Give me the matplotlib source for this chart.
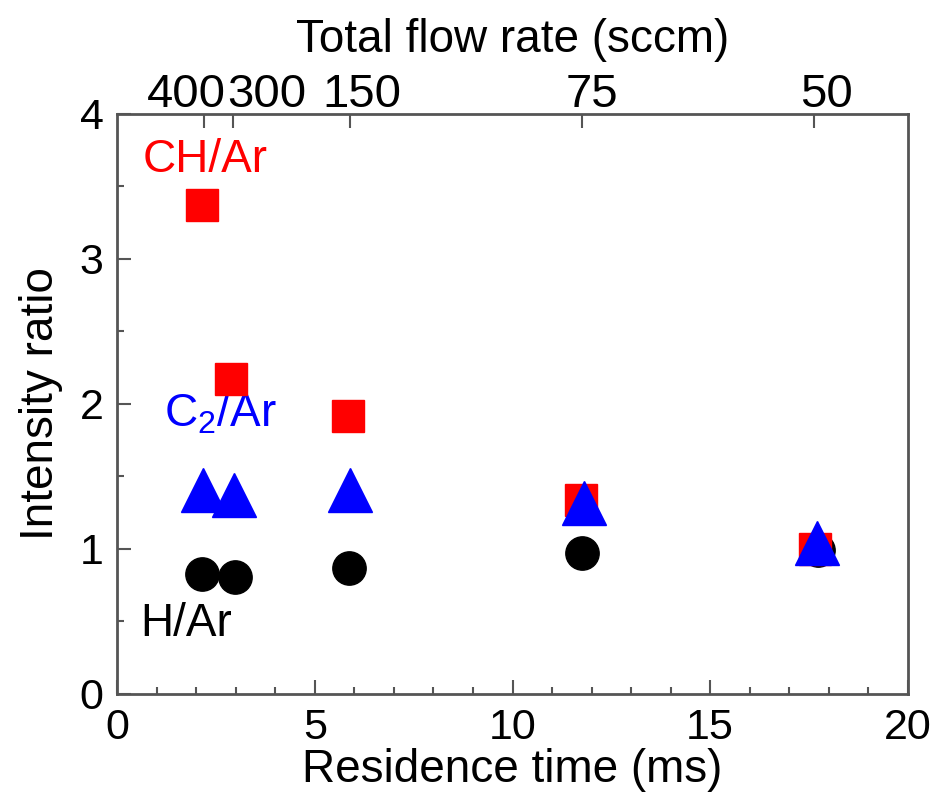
import matplotlib
matplotlib.use("Agg")
import matplotlib.pyplot as plt
from matplotlib.ticker import MultipleLocator
from matplotlib.transforms import ScaledTranslation

plt.rcParams['font.family'] = ['Liberation Sans', 'DejaVu Sans']
plt.rcParams['mathtext.fontset'] = 'custom'
plt.rcParams['mathtext.rm'] = 'Liberation Sans'
plt.rcParams['mathtext.it'] = 'Liberation Sans'

# residence time (ms) and intensity ratios
ch_time = [2.15, 2.88, 5.83, 11.73, 17.65]
ch_ratio = [3.37, 2.17, 1.92, 1.34, 1.00]

c2_time = [2.18, 2.95, 5.90, 11.80, 17.70]
c2_ratio = [1.41, 1.37, 1.41, 1.32, 1.04]

h_time = [2.14, 2.98, 5.86, 11.75, 17.72]
h_ratio = [0.83, 0.81, 0.87, 0.97, 0.99]

# top axis: total flow rate -> residence time
flow_rates = [400, 300, 150, 75, 50]
flow_labels = ['400', '300', '150', '75', '50']
flow_time = [882.0 / f for f in flow_rates]
flow_label_shift = [-13, 24, 9, 7, 9]   # points, keeps crowded labels apart

fs = 33        # axis titles and series names
fs_tick = 31   # bottom / left tick labels
fs_top = 34    # flow-rate tick labels
spine_col = '#555555'

fig = plt.figure(figsize=(9.36, 8.05), dpi=100)
ax = fig.add_axes([0.1253, 0.1379, 0.8445, 0.7205])

ax.plot(h_time, h_ratio, 'o', color='black', markersize=24, zorder=3)
ax.plot(ch_time, ch_ratio, 's', color='#ff0000', markersize=23.5, zorder=4)
ax.plot(c2_time, c2_ratio, '^', color='#0000ff', markersize=31, zorder=5)

ax.text(2.22, 3.68, 'CH/Ar', color='#ff0000', fontsize=fs, ha='center', va='center')
ax.text(2.6, 1.93, r'C$_2$/Ar', color='#0000ff', fontsize=fs, ha='center', va='center')
ax.text(1.74, 0.48, 'H/Ar', color='black', fontsize=fs, ha='center', va='center')

ax.set_xlim(0, 20)
ax.set_ylim(0, 4)
ax.xaxis.set_major_locator(MultipleLocator(5))
ax.xaxis.set_minor_locator(MultipleLocator(1))
ax.yaxis.set_major_locator(MultipleLocator(1))
ax.yaxis.set_minor_locator(MultipleLocator(0.5))
ax.tick_params(which='major', direction='in', length=10, width=1.5, color=spine_col,
               labelsize=fs_tick, top=False, right=False, pad=10)
ax.tick_params(which='minor', direction='in', length=5, width=1.5, color=spine_col,
               top=False, right=False)
for sp in ax.spines.values():
    sp.set_color(spine_col)
    sp.set_linewidth(2)

ax.set_xlabel('Residence time (ms)', fontsize=fs, labelpad=0)
ax.set_ylabel('Intensity ratio', fontsize=fs, labelpad=12)

# flow rate axis on top
top = ax.twiny()
top.set_xlim(ax.get_xlim())
top.set_xticks(flow_time)
top.set_xticklabels(flow_labels)
top.tick_params(direction='in', length=10, width=1.5, color=spine_col, labelsize=fs_top, pad=-2)
top.xaxis.set_minor_locator(plt.NullLocator())
for lab, dx in zip(top.get_xticklabels(), flow_label_shift):
    lab.set_transform(lab.get_transform() + ScaledTranslation(dx / 72, 0, fig.dpi_scale_trans))
top.set_xlabel('Total flow rate (sccm)', fontsize=fs, labelpad=15)
for sp in top.spines.values():
    sp.set_visible(False)

fig.savefig('out.png', dpi=100)
